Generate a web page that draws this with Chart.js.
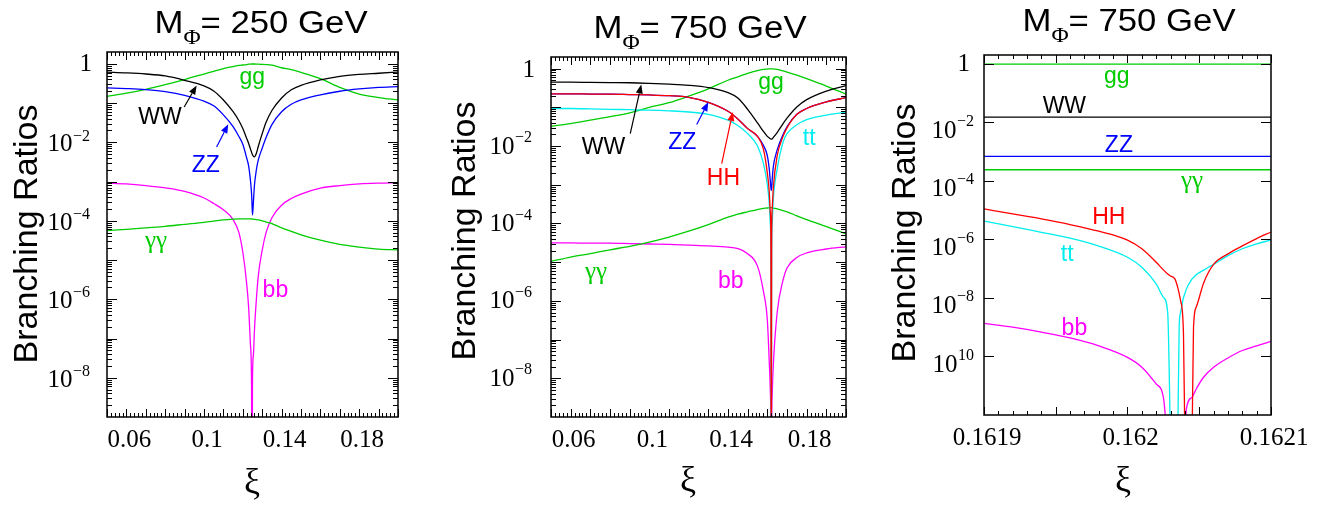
<!DOCTYPE html>
<html>
<head>
<meta charset="utf-8">
<script src="https://cdn.jsdelivr.net/npm/chart.js@4.4.1/dist/chart.umd.min.js"></script>
<style>
  body { margin: 0; background: #fff; }
  #wrap { position: relative; width: 1325px; height: 506px; }
  canvas { position: absolute; top: 0; display: block; }
</style>
</head>
<body>
<div id="wrap">
  <canvas id="c1" width="440" height="506" style="left:0"></canvas>
  <canvas id="c2" width="440" height="506" style="left:440px"></canvas>
  <canvas id="c3" width="445" height="506" style="left:880px"></canvas>
</div>
<script>
// ---- panel 1 : M = 250 GeV ----
const xs1 = [0.05,0.06,0.07,0.08,0.09,0.1,0.105,0.11,0.115,0.118,0.12,0.122,0.123,0.124,0.1245,0.1247,0.125,0.1255,0.126,0.127,0.128,0.13,0.132,0.135,0.14,0.145,0.15,0.16,0.17,0.18,0.19,0.2];
const ww1 = [0.617,0.589,0.550,0.490,0.380,0.275,0.204,0.120,0.0603,0.0355,0.0224,0.0126,0.00933,0.00661,0.00562,0.00525,0.00479,0.00437,0.00427,0.00525,0.00794,0.0166,0.0324,0.0646,0.135,0.219,0.282,0.389,0.479,0.537,0.575,0.617];
const zz1 = [0.245,0.234,0.219,0.195,0.158,0.112,0.0851,0.0501,0.0251,0.0141,0.00891,0.00398,0.00251,0.001,0.0005,0.00032,0.00014,0.00032,0.00079,0.002,0.00355,0.00708,0.0132,0.0282,0.0603,0.0933,0.12,0.162,0.2,0.229,0.251,0.263];
const gg1 = [0.148,0.178,0.224,0.295,0.398,0.55,0.646,0.759,0.851,0.912,0.933,0.955,0.977,0.985,0.99,0.99,0.99,0.99,0.99,0.985,0.977,0.966,0.955,0.923,0.794,0.708,0.603,0.417,0.251,0.17,0.138,0.12];
const aa1 = [5.62e-5,6.03e-5,6.61e-5,7.24e-5,8.13e-5,9.12e-5,9.77e-5,1.05e-4,1.10e-4,1.12e-4,1.12e-4,1.12e-4,1.12e-4,1.12e-4,1.11e-4,1.11e-4,1.10e-4,1.10e-4,1.09e-4,1.07e-4,1.05e-4,1.0e-4,9.3e-5,8.5e-5,6.6e-5,5.4e-5,4.4e-5,3.2e-5,2.5e-5,2.14e-5,1.9e-5,1.82e-5];
const bb1 = [9.1e-4,8.7e-4,7.9e-4,6.9e-4,5.6e-4,3.8e-4,2.75e-4,1.9e-4,1.07e-4,5.0e-5,1.6e-5,2.5e-6,6.3e-7,6.3e-8,6.3e-9,1e-12,1e-8,4e-8,1.6e-7,1e-6,4e-6,1.8e-5,5e-5,1.2e-4,2.5e-4,3.7e-4,4.8e-4,6.8e-4,7.9e-4,8.7e-4,9.1e-4,9.3e-4];

// ---- panel 2 : M = 750 GeV ----
const xs2 = [0.05,0.06,0.07,0.08,0.09,0.1,0.11,0.12,0.13,0.14,0.145,0.15,0.155,0.158,0.16,0.161,0.1615,0.1618,0.162,0.1622,0.1625,0.163,0.165,0.168,0.17,0.175,0.18,0.19,0.2];
const ww2 = [0.447,0.447,0.442,0.437,0.432,0.417,0.398,0.372,0.324,0.24,0.174,0.089,0.0398,0.024,0.0178,0.0162,0.0155,0.0151,0.0151,0.0151,0.0155,0.0166,0.0224,0.038,0.0525,0.102,0.158,0.263,0.363];
const zz2 = [0.224,0.224,0.221,0.219,0.214,0.209,0.2,0.182,0.135,0.0794,0.0501,0.0282,0.0178,0.0105,0.00562,0.00251,0.00126,8.5e-4,7.1e-4,8.5e-4,0.00141,0.00282,0.00794,0.02,0.0316,0.0661,0.0933,0.138,0.178];
const hh2 = [0.224,0.224,0.221,0.219,0.214,0.209,0.2,0.182,0.135,0.0794,0.0501,0.0282,0.0178,0.0083,0.002,6.3e-4,2.0e-4,4.0e-5,1e-12,4.0e-5,2.5e-4,7.9e-4,0.00562,0.0178,0.0295,0.0661,0.0933,0.138,0.178];
const tt2 = [0.0933,0.0933,0.0912,0.0891,0.0871,0.0851,0.0813,0.0759,0.0661,0.0468,0.0339,0.0209,0.01,0.00355,0.001,3.2e-4,1e-4,1.6e-5,1e-12,1.6e-5,1e-4,4e-4,0.00251,0.0126,0.0209,0.0355,0.0479,0.0631,0.0741];
const gg2 = [0.0324,0.038,0.0468,0.0575,0.0724,0.1,0.132,0.195,0.302,0.501,0.617,0.759,0.891,0.955,0.977,0.99,0.99,0.99,0.99,0.99,0.99,0.989,0.955,0.871,0.813,0.676,0.55,0.355,0.219];
const aa2 = [1.05e-5,1.35e-5,1.66e-5,2.09e-5,2.57e-5,3.31e-5,4.47e-5,6.31e-5,9.33e-5,1.45e-4,1.74e-4,2.0e-4,2.29e-4,2.45e-4,2.51e-4,2.57e-4,2.57e-4,2.57e-4,2.57e-4,2.57e-4,2.57e-4,2.51e-4,2.4e-4,2.14e-4,2.0e-4,1.58e-4,1.26e-4,8.3e-5,5.4e-5];
const bb2 = [3.16e-5,3.16e-5,3.09e-5,3.09e-5,3.02e-5,2.95e-5,2.88e-5,2.75e-5,2.63e-5,2.45e-5,2.24e-5,1.66e-5,7.9e-6,1.78e-6,3.2e-7,2.5e-8,5e-9,6.3e-10,1e-12,6.3e-10,4e-9,2e-8,5e-7,3.5e-6,7.1e-6,1.32e-5,1.74e-5,2.19e-5,2.5e-5];

// ---- panel 3 : zoom around the zero, M = 750 GeV ----
const xs3 = [0.1619,0.16192,0.16194,0.16196,0.16198,0.162,0.16201,0.16202,0.162025,0.162028,0.16203,0.162033,0.162035,0.162036,0.162037,0.162039,0.16204,0.162041,0.162045,0.162046,0.162048,0.162053,0.16206,0.16207,0.16208,0.16209,0.1621];
const hh3 = [1.1e-5,7.4e-6,5.0e-6,3.2e-6,1.9e-6,9.5e-7,4.8e-7,1.66e-7,9.1e-8,6.6e-8,5.6e-8,4.5e-8,2.3e-8,1.4e-8,8.1e-9,6.3e-10,1e-13,null,1e-13,1e-9,5e-9,3.2e-8,1.4e-7,3.2e-7,6.0e-7,1.07e-6,1.78e-6];
const tt3 = [4.2e-6,2.75e-6,1.74e-6,1.1e-6,5.9e-7,2.45e-7,1.12e-7,3.0e-8,1.05e-8,3.2e-9,1e-13,null,1e-13,1e-9,3.2e-9,1e-8,1.4e-8,2.0e-8,4.5e-8,5.0e-8,6.3e-8,8.9e-8,1.4e-7,2.8e-7,4.8e-7,7.1e-7,9.5e-7];
const bb3 = [1.35e-9,1.0e-9,6.8e-10,4.3e-10,2.3e-10,9.3e-11,4.3e-11,1.15e-11,4.0e-12,1e-13,null,null,null,null,null,null,1e-13,1.6e-12,4.0e-12,5.0e-12,7.9e-12,1.95e-11,4.3e-11,8.9e-11,1.6e-10,2.3e-10,3.3e-10];
const xEnds3 = [0.1619, 0.1621];
const gg3 = [0.975, 0.975];
const ww3 = [0.0151, 0.0151];
const zz3 = [6.9e-4, 6.9e-4];
const aa3 = [2.4e-4, 2.4e-4];

// tick labels
const xLabels12 = [0.06, 0.1, 0.14, 0.18];
const xLabels3 = [0.1619, 0.162, 0.1621];
const yExp12 = [0, -2, -4, -6, -8];
const ySup12 = ['', '\u22122', '\u22124', '\u22126', '\u22128'];
const yExp3 = [0, -2, -4, -6, -8, -10];
const ySup3 = ['', '\u22122', '\u22124', '\u22126', '\u22128', '10'];

const GREEN = '#00cc00', BLACK = '#000000', BLUE = '#0000ff', RED = '#ff0000', CYAN = '#00eeee', MAGENTA = '#ff00ff';
const SANS = '"Liberation Sans", Arial, sans-serif';
const SERIF = '"Liberation Serif", "Times New Roman", serif';

// curve labels and arrows, in data coordinates
const labels1 = [
  { t: 'gg', x: 0.1249, y: 0.38, c: GREEN },
  { t: 'WW', x: 0.0773, y: 0.049, c: BLACK },
  { t: 'ZZ', x: 0.1009, y: 0.0029, c: BLUE },
  { t: '\u03b3\u03b3', x: 0.0753, y: 2.45e-5, c: GREEN, serif: true },
  { t: 'bb', x: 0.1368, y: 1.95e-6, c: MAGENTA }
];
const arrows1 = [
  { x0: 0.0898, y0: 0.079, x1: 0.0962, y1: 0.28, c: BLACK },
  { x0: 0.1065, y0: 0.0076, x1: 0.1125, y1: 0.029, c: BLUE }
];
const labels2 = [
  { t: 'gg', x: 0.1619, y: 0.37, c: GREEN },
  { t: 'WW', x: 0.0767, y: 0.0105, c: BLACK },
  { t: 'ZZ', x: 0.1168, y: 0.014, c: BLUE },
  { t: 'HH', x: 0.1377, y: 0.00166, c: RED },
  { t: 'tt', x: 0.1813, y: 0.017, c: CYAN },
  { t: '\u03b3\u03b3', x: 0.0729, y: 4.5e-6, c: GREEN, serif: true },
  { t: 'bb', x: 0.1414, y: 3.7e-6, c: MAGENTA }
];
const arrows2 = [
  { x0: 0.0903, y0: 0.021, x1: 0.0959, y1: 0.39, c: BLACK },
  { x0: 0.1241, y0: 0.036, x1: 0.13, y1: 0.137, c: BLUE },
  { x0: 0.1368, y0: 0.0035, x1: 0.1424, y1: 0.076, c: RED }
];
const labels3 = [
  { t: 'gg', x: 0.1619925, y: 0.31, c: GREEN },
  { t: 'WW', x: 0.161956, y: 0.041, c: BLACK },
  { t: 'ZZ', x: 0.161994, y: 0.0019, c: BLUE },
  { t: '\u03b3\u03b3', x: 0.162045, y: 7.3e-5, c: GREEN, serif: true },
  { t: 'HH', x: 0.161987, y: 6.5e-6, c: RED },
  { t: 'tt', x: 0.161958, y: 3.4e-7, c: CYAN },
  { t: 'bb', x: 0.161963, y: 1.1e-9, c: MAGENTA }
];

const H = 506;

const panels = {
  c1: {
    W: 440, area: { left: 107, right: 398, top: 52, bottom: 417 },
    xMin: 0.05, xMax: 0.2, yMin: 1e-9, yMax: 2, xLabels: xLabels12,
    xMinor: 0.002, majorEvery: 5, yMinors: true, yExp: yExp12, ySup: ySup12,
    oneGap: 15, expGap: 17, baseDy: 2.5, supDy: -6, oneDy: 1,
    mass: '250', titleX: 261, titleY: 33, yTitleX: 37, yTitleY: 234, xiX: 252, xiY: 493,
    labels: labels1, arrows: arrows1,
    series: [
      { xs: xs1, ys: ww1, c: BLACK }, { xs: xs1, ys: zz1, c: BLUE },
      { xs: xs1, ys: gg1, c: GREEN }, { xs: xs1, ys: aa1, c: GREEN },
      { xs: xs1, ys: bb1, c: MAGENTA }
    ]
  },
  c2: {
    W: 440, area: { left: 111, right: 406, top: 57, bottom: 417 },
    xMin: 0.05, xMax: 0.2, yMin: 1e-9, yMax: 2, xLabels: xLabels12,
    xMinor: 0.002, majorEvery: 5, yMinors: true, yExp: yExp12, ySup: ySup12,
    oneGap: 16, expGap: 19, baseDy: 1, supDy: -8, oneDy: 1.7,
    mass: '750', titleX: 260, titleY: 38, yTitleX: 35, yTitleY: 231, xiX: 248, xiY: 491,
    labels: labels2, arrows: arrows2,
    series: [
      { xs: xs2, ys: ww2, c: BLACK }, { xs: xs2, ys: hh2, c: RED },
      { xs: xs2, ys: zz2, c: BLUE }, { xs: xs2, ys: tt2, c: CYAN },
      { xs: xs2, ys: gg2, c: GREEN }, { xs: xs2, ys: aa2, c: GREEN },
      { xs: xs2, ys: bb2, c: MAGENTA }
    ]
  },
  c3: {
    W: 445, area: { left: 104, right: 391, top: 55, bottom: 415 },
    xMin: 0.1619, xMax: 0.1621, yMin: 1e-12, yMax: 2, xLabels: xLabels3,
    xMinor: 0.00001, majorEvery: 5, yMinors: false, yExp: yExp3, ySup: ySup3,
    oneGap: 14, expGap: 10, baseDy: 9, supDy: -1, oneDy: 0.7,
    mass: '750', titleX: 249, titleY: 31, yTitleX: 35, yTitleY: 233, xiX: 243, xiY: 491,
    labels: labels3, arrows: [],
    series: [
      { xs: xEnds3, ys: gg3, c: GREEN }, { xs: xEnds3, ys: ww3, c: BLACK },
      { xs: xEnds3, ys: zz3, c: BLUE }, { xs: xEnds3, ys: aa3, c: GREEN },
      { xs: xs3, ys: hh3, c: RED }, { xs: xs3, ys: tt3, c: CYAN },
      { xs: xs3, ys: bb3, c: MAGENTA }
    ]
  }
};

// text drawn with a slight horizontal stretch
function wideText(ctx, text, x, y, sx) {
  ctx.save();
  ctx.translate(x, y);
  ctx.scale(sx, 1);
  ctx.fillText(text, 0, 0);
  ctx.restore();
}

function drawTitle(ctx, p) {
  const big = '31px ' + SANS, sub = '21px ' + SERIF, sx = 1.12;
  const rest = '= ' + p.mass + ' GeV';
  ctx.font = big;
  const wM = ctx.measureText('M').width * sx, wR = ctx.measureText(rest).width * sx;
  ctx.font = sub;
  const wP = ctx.measureText('\u03a6').width * sx;
  let x = p.titleX - (wM + wP + wR) / 2;
  ctx.fillStyle = '#000';
  ctx.textAlign = 'left';
  ctx.textBaseline = 'alphabetic';
  ctx.font = big; wideText(ctx, 'M', x, p.titleY, sx); x += wM;
  ctx.font = sub; wideText(ctx, '\u03a6', x, p.titleY + 11, sx); x += wP;
  ctx.font = big; wideText(ctx, rest, x, p.titleY, sx);
}

function arrow(ctx, x0, y0, x1, y1, c) {
  const ang = Math.atan2(y1 - y0, x1 - x0), L = 9, hw = 3.5;
  const bx = x1 - L * Math.cos(ang), by = y1 - L * Math.sin(ang);
  ctx.strokeStyle = c; ctx.fillStyle = c; ctx.lineWidth = 1.2;
  ctx.beginPath(); ctx.moveTo(x0, y0); ctx.lineTo(bx, by); ctx.stroke();
  ctx.beginPath();
  ctx.moveTo(x1, y1);
  ctx.lineTo(bx + hw * Math.sin(ang), by - hw * Math.cos(ang));
  ctx.lineTo(bx - hw * Math.sin(ang), by + hw * Math.cos(ang));
  ctx.closePath(); ctx.fill();
}

const decor = {
  id: 'decor',
  afterDraw(chart) {
    const p = panels[chart.canvas.id];
    const ctx = chart.ctx, a = chart.chartArea, xs = chart.scales.x, ys = chart.scales.y;
    ctx.save();

    // frame
    ctx.strokeStyle = '#000';
    ctx.lineWidth = 1.5;
    ctx.strokeRect(a.left, a.top, a.right - a.left, a.bottom - a.top);

    // x ticks, inward on bottom and top
    ctx.lineWidth = 1;
    ctx.beginPath();
    const n = Math.round((p.xMax - p.xMin) / p.xMinor);
    for (let k = 0; k <= n; k++) {
      const px = Math.round(xs.getPixelForValue(p.xMin + k * p.xMinor)) + 0.5;
      const len = k % p.majorEvery === 0 ? 8 : 4;
      ctx.moveTo(px, a.bottom); ctx.lineTo(px, a.bottom - len);
      ctx.moveTo(px, a.top); ctx.lineTo(px, a.top + len);
    }
    // y ticks, inward on left and right
    for (let e = Math.round(Math.log10(p.yMin)); e <= 0; e++) {
      for (let m = 1; m <= 9; m++) {
        if (m > 1 && !p.yMinors) break;
        if (!p.yMinors && e % 2 !== 0) break;
        const v = m * Math.pow(10, e);
        if (v <= p.yMin || v >= p.yMax) continue;
        const py = Math.round(ys.getPixelForValue(v)) + 0.5;
        const len = m === 1 ? 10 : 5;
        ctx.moveTo(a.left, py); ctx.lineTo(a.left + len, py);
        ctx.moveTo(a.right, py); ctx.lineTo(a.right - len, py);
      }
    }
    ctx.stroke();

    // y tick labels with superscript exponents
    ctx.fillStyle = '#000';
    ctx.textBaseline = 'middle';
    ctx.textAlign = 'right';
    p.yExp.forEach((e, i) => {
      const py = ys.getPixelForValue(Math.pow(10, e));
      const sup = p.ySup[i];
      if (!sup) {
        ctx.font = '25px ' + SERIF;
        ctx.fillText('1', a.left - p.oneGap, py + p.oneDy);
        return;
      }
      ctx.font = '16px ' + SERIF;
      const sx = a.left - p.expGap;
      ctx.fillText(sup, sx, py + p.supDy);
      const w = ctx.measureText(sup).width;
      ctx.font = '25px ' + SERIF;
      ctx.fillText('10', sx - w - 0.5, py + p.baseDy);
    });

    // axis titles
    ctx.font = '34px ' + SANS;
    ctx.textAlign = 'center';
    ctx.textBaseline = 'alphabetic';
    ctx.save();
    ctx.translate(p.yTitleX, p.yTitleY);
    ctx.rotate(-Math.PI / 2);
    ctx.fillText('Branching Ratios', 0, 0);
    ctx.restore();
    ctx.font = '36px ' + SERIF;
    ctx.fillText('\u03be', p.xiX, p.xiY);

    drawTitle(ctx, p);

    // curve labels
    ctx.textAlign = 'center';
    ctx.textBaseline = 'alphabetic';
    p.labels.forEach(l => {
      ctx.font = l.serif ? '25px ' + SERIF : '23px ' + SANS;
      const m = ctx.measureText(l.t);
      const px = xs.getPixelForValue(l.x), py = ys.getPixelForValue(l.y);
      ctx.fillStyle = l.c;
      ctx.fillText(l.t, px, py + (m.actualBoundingBoxAscent - m.actualBoundingBoxDescent) / 2);
    });
    p.arrows.forEach(r => {
      arrow(ctx, xs.getPixelForValue(r.x0), ys.getPixelForValue(r.y0),
        xs.getPixelForValue(r.x1), ys.getPixelForValue(r.y1), r.c);
    });
    ctx.restore();
  }
};

function makeChart(id) {
  const p = panels[id];
  return new Chart(document.getElementById(id), {
    type: 'line',
    data: {
      datasets: p.series.map(s => ({
        data: s.xs.map((x, i) => ({ x: x, y: s.ys[i] })),
        borderColor: s.c,
        borderWidth: 1.3,
        pointRadius: 0,
        fill: false,
        spanGaps: false,
        cubicInterpolationMode: 'monotone'
      }))
    },
    options: {
      responsive: false,
      animation: false,
      devicePixelRatio: 1,
      layout: { padding: { left: 0, top: p.area.top, right: p.W - p.area.right, bottom: 0 } },
      scales: {
        x: {
          type: 'linear', min: p.xMin, max: p.xMax,
          grid: { display: false, drawTicks: false },
          border: { display: false },
          afterFit: s => { s.height = H - p.area.bottom; },
          afterBuildTicks: s => { s.ticks = p.xLabels.map(v => ({ value: v })); },
          ticks: {
            callback: v => String(v),
            font: { family: SERIF, size: 25 },
            color: '#000', padding: 8, maxRotation: 0, autoSkip: false, labelOffset: 3
          }
        },
        y: {
          type: 'logarithmic', min: p.yMin, max: p.yMax,
          grid: { display: false, drawTicks: false },
          border: { display: false },
          afterFit: s => { s.width = p.area.left; },
          ticks: { display: false }
        }
      },
      plugins: { legend: { display: false }, tooltip: { enabled: false }, title: { display: false } }
    },
    plugins: [decor]
  });
}

makeChart('c1');
makeChart('c2');
makeChart('c3');
</script>
</body>
</html>
